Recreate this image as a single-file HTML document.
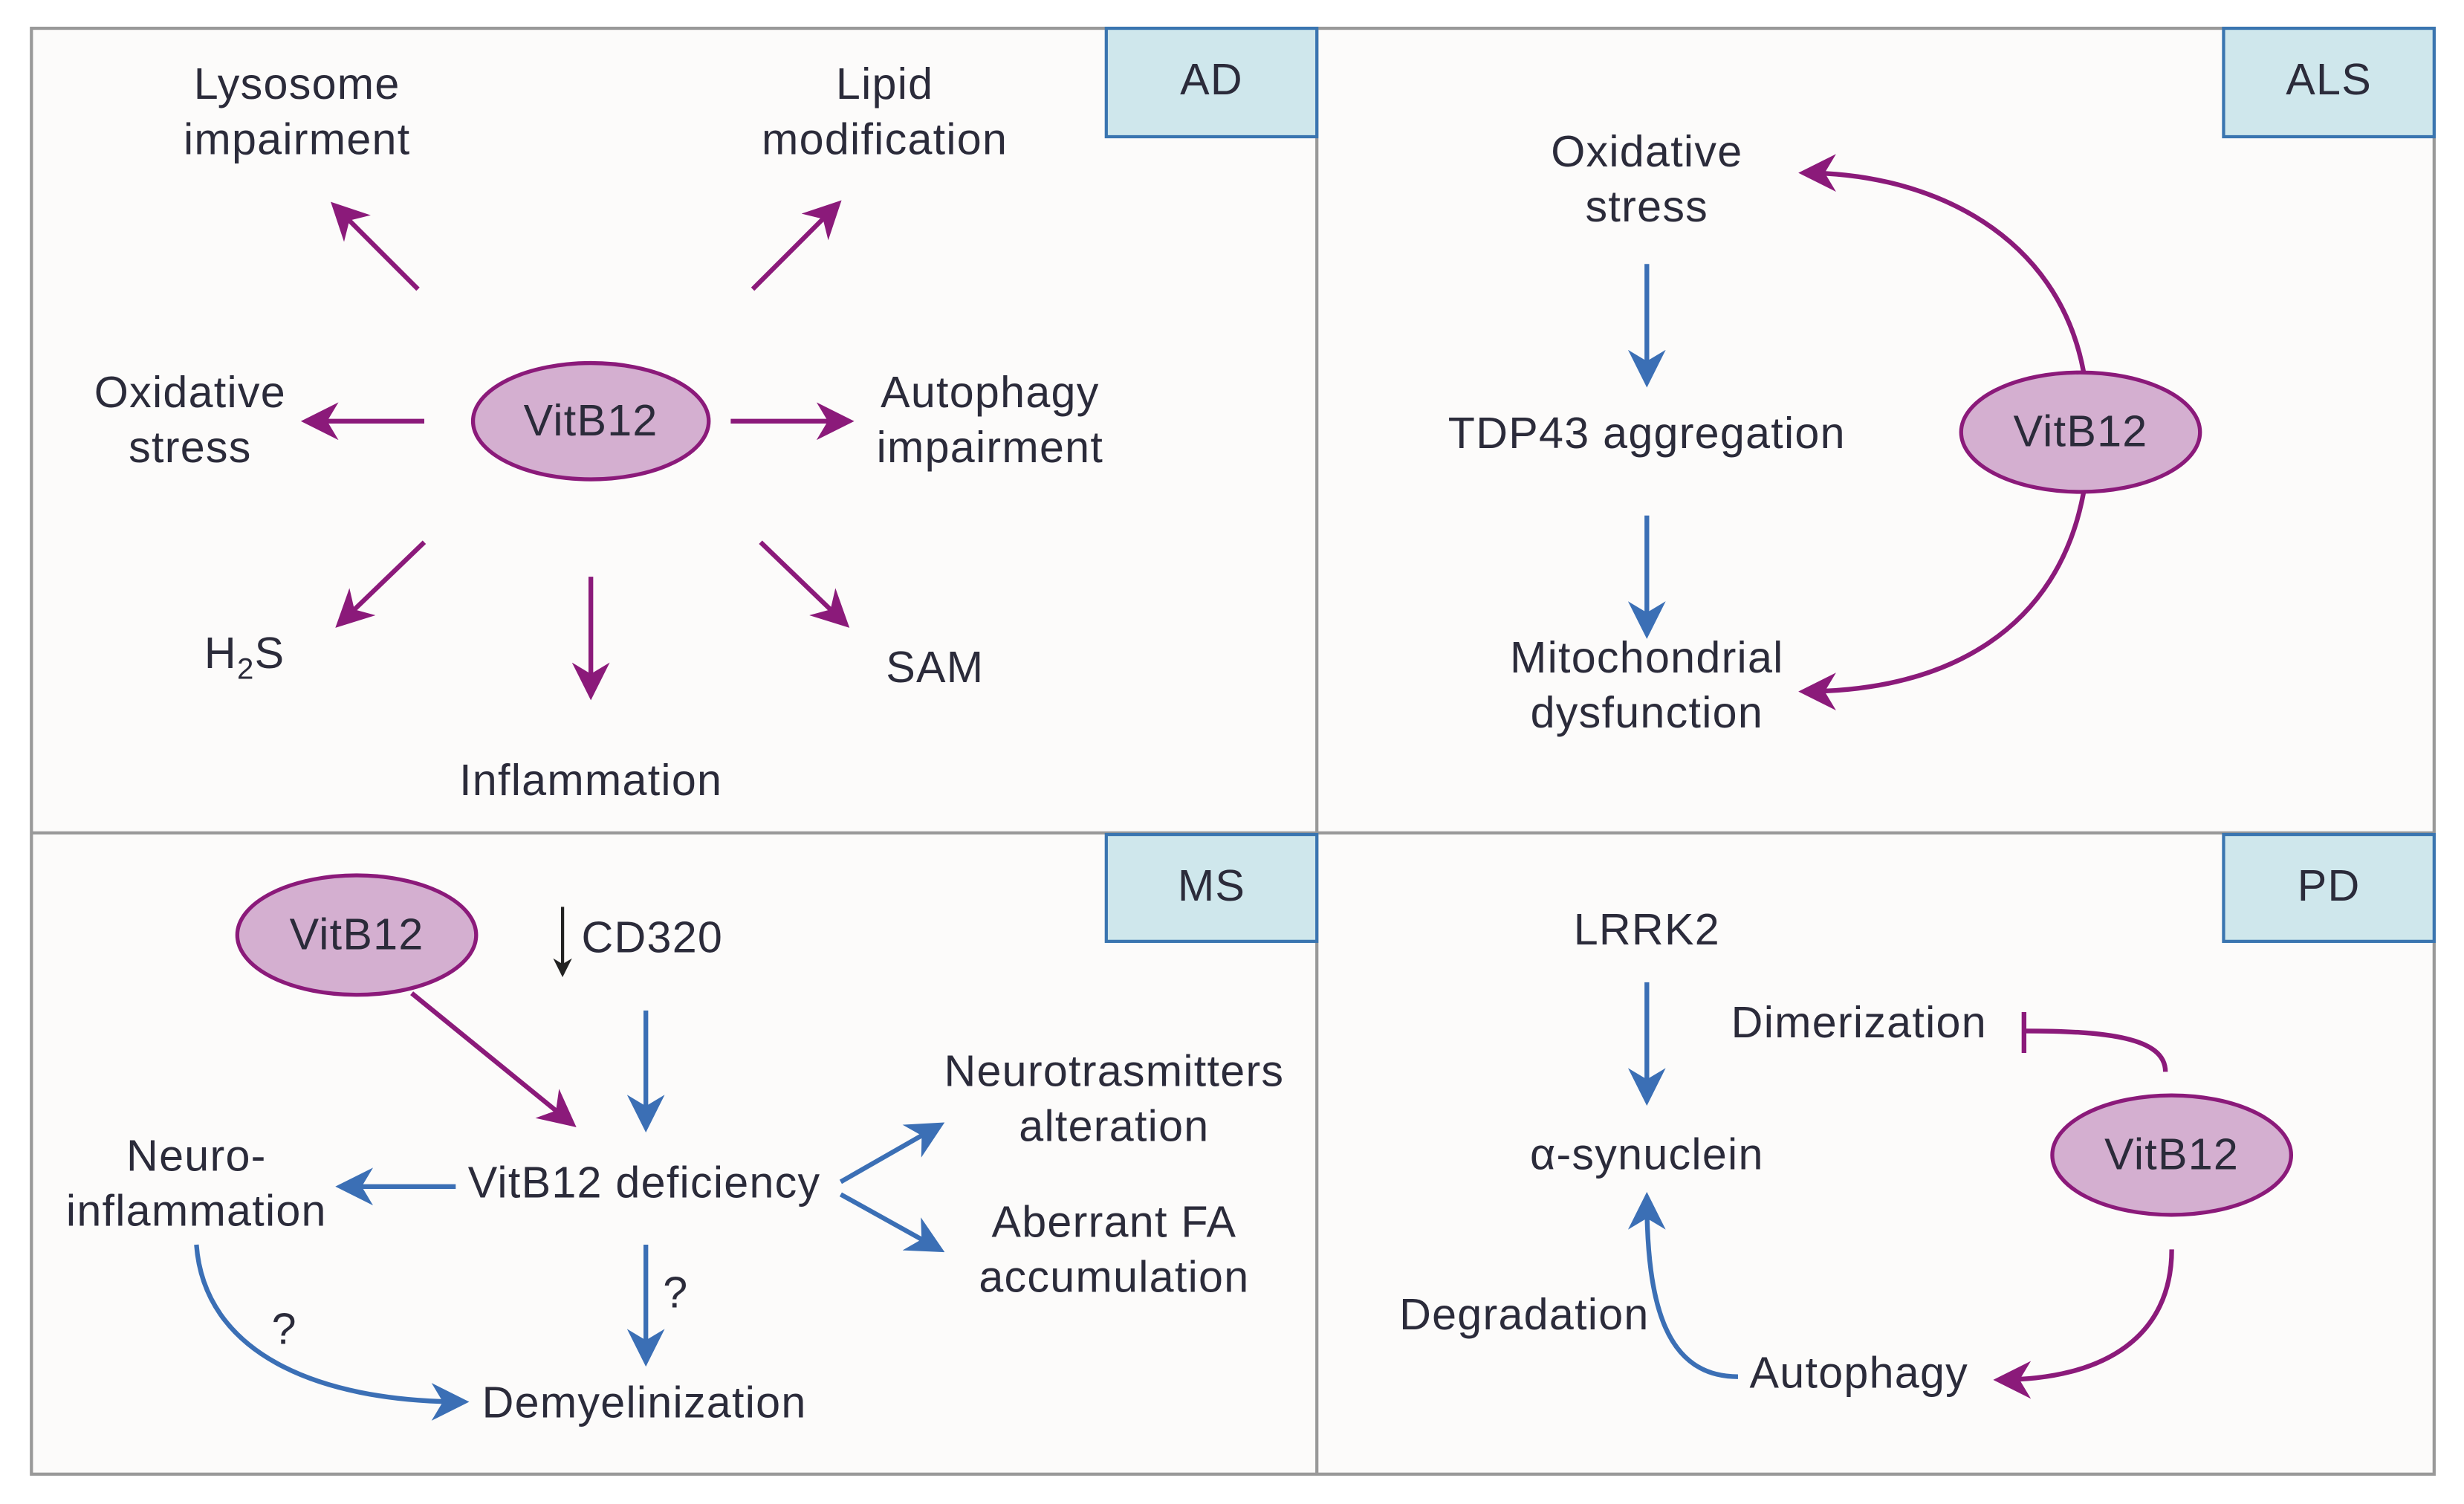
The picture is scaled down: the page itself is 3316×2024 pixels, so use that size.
<!DOCTYPE html>
<html><head><meta charset="utf-8"><style>
html,body{margin:0;padding:0;background:#fff;width:3316px;height:2024px;overflow:hidden}
svg{display:block}
text{font-family:"Liberation Sans",sans-serif;font-size:28px;letter-spacing:0.6px;fill:#2b2b3a;text-anchor:middle}
</style></head><body>
<svg width="3316" height="2024" viewBox="0 0 1568 957" preserveAspectRatio="none">
<defs>
<marker id="ap" viewBox="0 0 20 20" refX="17" refY="10" markerWidth="24" markerHeight="24" markerUnits="userSpaceOnUse" orient="auto"><path d="M0,0 L20,10 L0,20 L6,10 Z" fill="#8b1a7a"/></marker>
<marker id="ab" viewBox="0 0 20 20" refX="17" refY="10" markerWidth="24" markerHeight="24" markerUnits="userSpaceOnUse" orient="auto"><path d="M0,0 L20,10 L0,20 L6,10 Z" fill="#3b6fb5"/></marker>
<marker id="ak" viewBox="0 0 20 20" refX="17" refY="10" markerWidth="12" markerHeight="12" markerUnits="userSpaceOnUse" orient="auto"><path d="M0,0 L20,10 L0,20 L6,10 Z" fill="#222"/></marker>
</defs>
<rect x="0" y="0" width="1568" height="957" fill="#fff"/>
<rect x="20" y="18" width="1529" height="920" fill="#fcfbfa" stroke="#999" stroke-width="2"/>
<line x1="838" y1="18" x2="838" y2="938" stroke="#999" stroke-width="2"/>
<line x1="20" y1="530" x2="1549" y2="530" stroke="#999" stroke-width="2"/>
<g fill="#cfe7ec" stroke="#3a75b0" stroke-width="2">
<rect x="704" y="18" width="134" height="69"/><rect x="1415" y="18" width="134" height="69"/>
<rect x="704" y="531" width="134" height="68"/><rect x="1415" y="531" width="134" height="68"/>
</g>
<text x="771" y="60">AD</text><text x="1482" y="60">ALS</text>
<text x="771" y="573">MS</text><text x="1482" y="573">PD</text>
<g fill="#d4afd0" stroke="#8b1a7a" stroke-width="2.5">
<ellipse cx="376" cy="268" rx="75" ry="37"/><ellipse cx="1324" cy="275" rx="76" ry="38"/>
<ellipse cx="227" cy="595" rx="76" ry="38"/><ellipse cx="1382" cy="735" rx="76" ry="38"/>
</g>
<text x="376" y="277">VitB12</text><text x="1324" y="284">VitB12</text>
<text x="227" y="604">VitB12</text><text x="1382" y="744">VitB12</text>
<g stroke="#8b1a7a" stroke-width="3" fill="none" marker-end="url(#ap)">
<line x1="266" y1="184" x2="213" y2="131"/><line x1="479" y1="184" x2="533" y2="130"/>
<line x1="270" y1="268" x2="195" y2="268"/><line x1="465" y1="268" x2="540" y2="268"/>
<line x1="270" y1="345" x2="216" y2="397"/><line x1="376" y1="367" x2="376" y2="442"/>
<line x1="484" y1="345" x2="538" y2="397"/>
<path d="M1326,237 C1310,150 1230,110 1148,110"/>
<path d="M1326,313 C1310,400 1240,440 1148,440"/>
<line x1="262" y1="632" x2="364" y2="715"/>
<path d="M1382,795 C1382,850 1340,878 1272,878"/>
</g>
<text x="189" y="63">Lysosome</text><text x="189" y="98">impairment</text>
<text x="563" y="63">Lipid</text><text x="563" y="98">modification</text>
<text x="121" y="259">Oxidative</text><text x="121" y="294">stress</text>
<text x="630" y="259">Autophagy</text><text x="630" y="294">impairment</text>
<text x="130" y="425" style="text-anchor:start">H<tspan dy="7" font-size="19">2</tspan><tspan dy="-7">S</tspan></text>
<text x="376" y="506">Inflammation</text>
<text x="595" y="434">SAM</text>
<g stroke="#3b6fb5" stroke-width="3" fill="none" marker-end="url(#ab)">
<line x1="1048" y1="168" x2="1048" y2="243"/><line x1="1048" y1="328" x2="1048" y2="403"/>
<line x1="411" y1="643" x2="411" y2="717"/><line x1="290" y1="755" x2="217" y2="755"/>
<line x1="535" y1="752" x2="598" y2="716"/><line x1="535" y1="760" x2="598" y2="795"/>
<line x1="411" y1="792" x2="411" y2="866"/>
<path d="M125,792 C130,860 200,892 295,892"/>
<line x1="1048" y1="625" x2="1048" y2="700"/>
<path d="M1106,876 C1060,876 1048,830 1048,762"/>
</g>
<text x="1048" y="106">Oxidative</text><text x="1048" y="141">stress</text>
<text x="1048" y="285">TDP43 aggregation</text>
<text x="1048" y="428">Mitochondrial</text><text x="1048" y="463">dysfunction</text>
<line x1="358" y1="577" x2="358" y2="620" stroke="#222" stroke-width="2" marker-end="url(#ak)"/>
<text x="370" y="606" style="text-anchor:start">CD320</text>
<text x="410" y="762">VitB12 deficiency</text>
<text x="125" y="745">Neuro-</text><text x="125" y="780">inflammation</text>
<text x="709" y="691">Neurotrasmitters</text><text x="709" y="726">alteration</text>
<text x="709" y="787">Aberrant FA</text><text x="709" y="822">accumulation</text>
<text x="430" y="832">?</text><text x="181" y="855">?</text>
<text x="410" y="902">Demyelinization</text>
<text x="1048" y="601">LRRK2</text>
<text x="1048" y="744">α-synuclein</text>
<text x="1183" y="660">Dimerization</text>
<path d="M1378,682 C1378,660 1340,656 1288,656" stroke="#8b1a7a" stroke-width="3" fill="none"/>
<line x1="1288" y1="644" x2="1288" y2="670" stroke="#8b1a7a" stroke-width="3"/>
<text x="1183" y="883">Autophagy</text>
<text x="970" y="846">Degradation</text>
</svg>
</body></html>
